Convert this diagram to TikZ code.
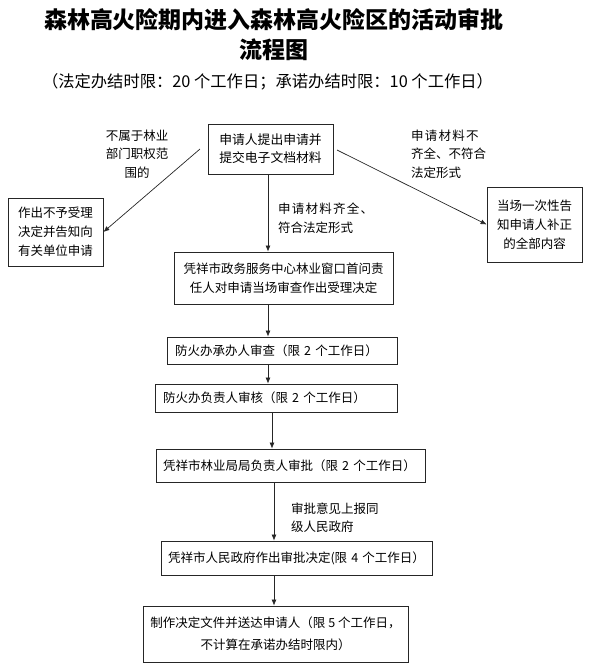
\documentclass[tikz,border=0pt]{standalone}
\usepackage{fontspec}
\setmainfont{Noto Sans CJK SC}
\newfontfamily\spacedcjk[LetterSpace=10]{Noto Sans CJK SC}
\usetikzlibrary{arrows.meta}
\begin{document}
\begin{tikzpicture}[x=1pt,y=-1pt,
  box/.style={draw=black!85, line width=0.8pt, font=\fontsize{12.5}{19}\selectfont, inner sep=0pt, align=center},
  lbox/.style={box, inner xsep=8pt, align=left},
  lab/.style={font=\fontsize{12.5}{18.5}\selectfont, inner sep=0pt, align=left},
  arr/.style={draw=black!85, line width=0.7pt, -{Latex[length=6pt,width=5pt]}}]
\useasboundingbox (0,0) rectangle (592,670);
% titles
\node[font=\fontsize{23}{30}\selectfont\bfseries, align=center, inner sep=0pt] (title) at (274,35)
  {森林高火险期内进入森林高火险区的活动审批\\流程图};
\node[font=\fontsize{16.3}{20}\selectfont, inner sep=0pt] (subtitle) at (267.5,82)
  {（法定办结时限：20 个工作日；承诺办结时限：10 个工作日）};
% boxes
\node[box, minimum width=125pt, minimum height=50pt, font=\fontsize{12.8}{18}\selectfont] (top) at (270.5,149)
  {申请人提出申请并\\提交电子文档材料};
\node[box, minimum width=95pt, minimum height=68pt] (left) at (55.5,232)
  {作出不予受理\\决定并告知向\\有关单位申请};
\node[box, minimum width=95pt, minimum height=75pt] (right) at (534.5,224.5)
  {当场一次性告\\知申请人补正\\的全部内容};
\node[box, minimum width=219pt, minimum height=52pt] (accept) at (283.5,278)
  {凭祥市政务服务中心林业窗口首问责\\任人对申请当场审查作出受理决定};
\node[lbox, text width=214pt, inner xsep=8pt, minimum height=27pt] (s1) at (282,350.5)
  {\mbox{防火办承办人审查（限 2 个工作日）}};
\node[lbox, text width=226pt, minimum height=28pt] (s2) at (276,398)
  {\mbox{防火办负责人审核（限 2 个工作日）}};
\node[lbox, text width=255pt, inner xsep=7pt, minimum height=33pt] (s3) at (290.5,465.5)
  {\mbox{凭祥市林业局局负责人审批（限 2 个工作日）}};
\node[lbox, text width=257pt, inner xsep=7pt, minimum height=34pt] (s4) at (296.5,558)
  {\mbox{凭祥市人民政府作出审批决定(限 4 个工作日）}};
\node[box, minimum width=265pt, minimum height=56pt, font=\fontsize{12.5}{22}\selectfont] (s5) at (275.5,634)
  {制作决定文件并送达申请人（限 5 个工作日，\\不计算在承诺办结时限内）};
% labels
\node[lab, anchor=west] (lab1) at (278,218) {{\spacedcjk 申请材料齐全、}\\符合法定形式};
\node[lab, anchor=west] (lab2) at (291,517.5) {审批意见上报同\\级人民政府};
\node[lab, align=center] (lab3) at (137,154) {不属于林业\\部门职权范\\围的};
\node[lab, anchor=west] (lab4) at (411,154) {{\spacedcjk 申请材料不}\\齐全、不符合\\法定形式};
% helper coordinates
\coordinate (lstart) at (200,149);
\coordinate (rstart) at (337,150);
\coordinate (xa) at (268,0);
\coordinate (xb) at (272,0);
\coordinate (xc) at (274,0);
% connectors
\draw[arr] (lstart) -- (left.east);
\draw[arr] (rstart) -- (right.west);
\draw[arr] (top.south -| xa) -- (accept.north -| xa);
\draw[arr] (accept.south -| xa) -- (s1.north -| xa);
\draw[arr] (s1.south -| xa) -- (s2.north -| xa);
\draw[arr] (s2.south -| xb) -- (s3.north -| xb);
\draw[arr] (s3.south -| xc) -- (s4.north -| xc);
\draw[arr] (s4.south -| xc) -- (s5.north -| xc);
\end{tikzpicture}
\end{document}
